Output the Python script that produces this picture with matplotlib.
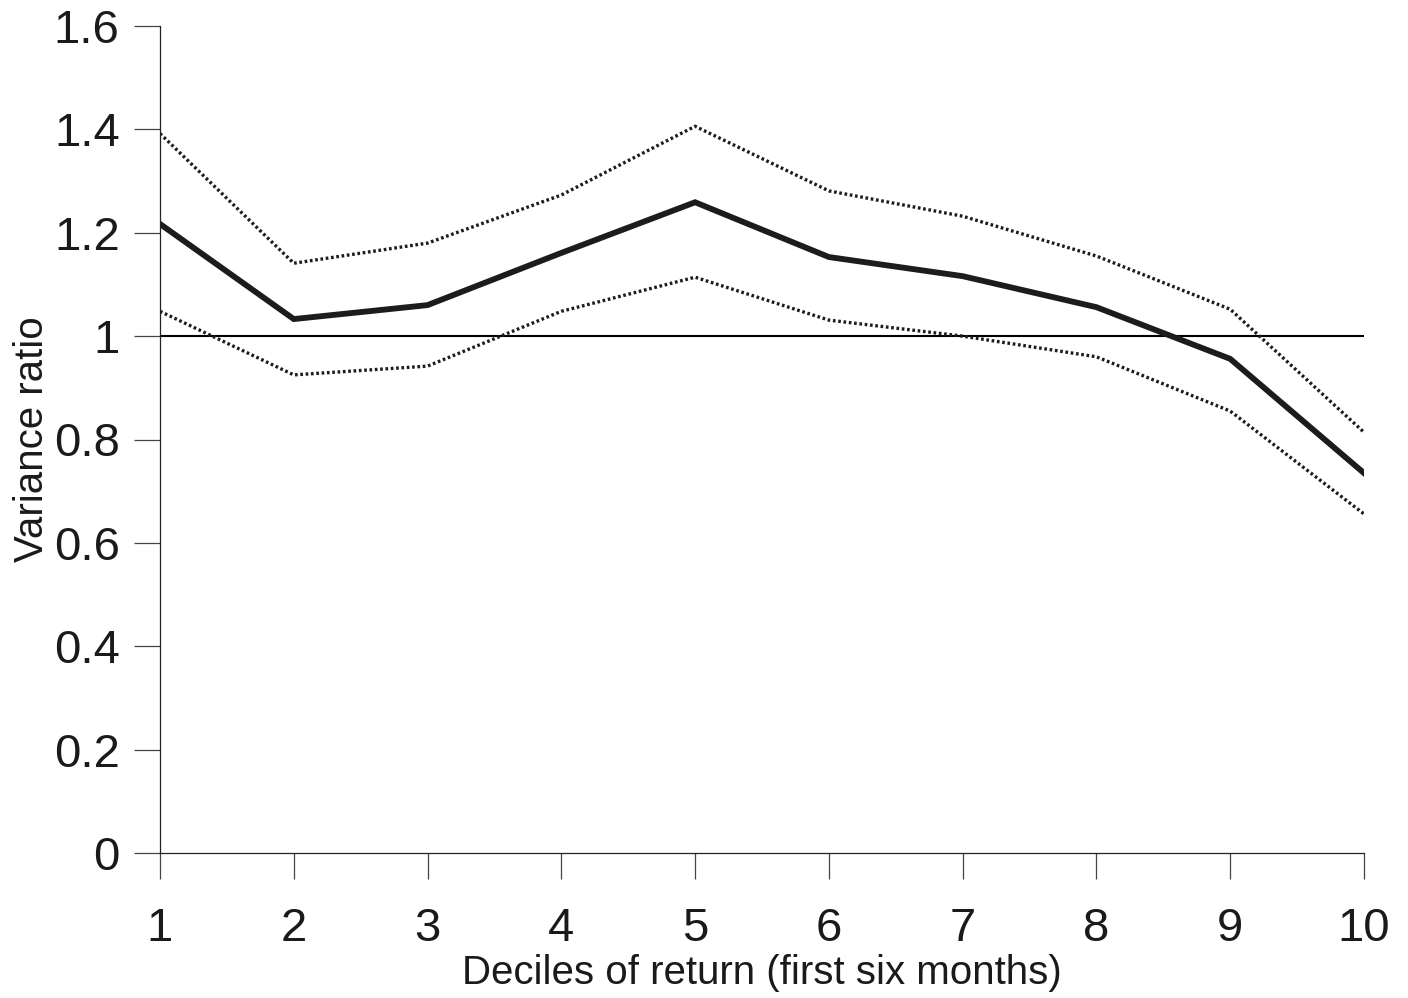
import matplotlib
matplotlib.use("Agg")
import matplotlib.pyplot as plt

plt.rcParams["font.family"] = ["Liberation Sans", "DejaVu Sans"]

# Deciles and variance ratios with bounds
deciles = [1, 2, 3, 4, 5, 6, 7, 8, 9, 10]
ratio = [1.217, 1.033, 1.060, 1.161, 1.259, 1.153, 1.116, 1.056, 0.956, 0.735]
upper = [1.392, 1.141, 1.180, 1.273, 1.406, 1.281, 1.232, 1.155, 1.052, 0.814]
lower = [1.048, 0.925, 0.942, 1.048, 1.114, 1.031, 1.000, 0.960, 0.855, 0.656]
yticks = [0, 0.2, 0.4, 0.6, 0.8, 1, 1.2, 1.4, 1.6]
ytick_labels = ["0", "0.2", "0.4", "0.6", "0.8", "1", "1.2", "1.4", "1.6"]

fig = plt.figure(figsize=(14.08, 9.98), dpi=100)
ax = fig.add_axes([160 / 1408, 1 - 853 / 998, (1364 - 160) / 1408, (853 - 26) / 998])

line_color = "#1c1c1c"
ax.axhline(1, color="black", linewidth=1.5, zorder=1)
ax.plot(deciles, upper, color=line_color, linewidth=2.4, linestyle=(0, (0.8, 0.8)))
ax.plot(deciles, lower, color=line_color, linewidth=2.4, linestyle=(0, (0.8, 0.8)))
ax.plot(deciles, ratio, color=line_color, linewidth=4.2, solid_joinstyle="miter")

ax.set_xlim(1, 10)
ax.set_ylim(0, 1.6)
ax.set_xticks(deciles)
ax.set_yticks(yticks)
ax.set_yticklabels(ytick_labels)

for side in ["top", "right"]:
    ax.spines[side].set_visible(False)
for side in ["left", "bottom"]:
    ax.spines[side].set_linewidth(0.9)
    ax.spines[side].set_color("#222222")

ax.tick_params(axis="both", direction="out", length=19, width=0.9, color="#444444",
               labelsize=34, labelcolor="#1a1a1a")
ax.tick_params(axis="x", pad=20)
ax.tick_params(axis="y", pad=10)

ax.set_xlabel("Deciles of return (first six months)", fontsize=29, color="#1a1a1a", labelpad=2)
ax.set_ylabel("Variance ratio", fontsize=29, color="#1a1a1a", labelpad=2)

fig.savefig("out.png", dpi=100)
